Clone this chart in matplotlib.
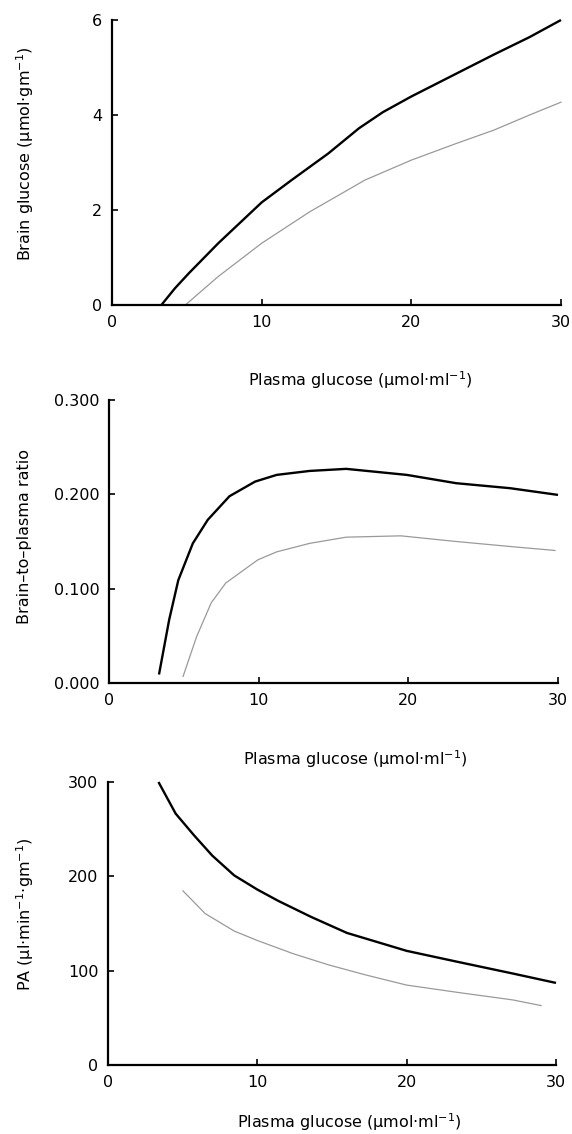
import matplotlib
matplotlib.use("Agg")
import matplotlib.pyplot as plt
import numpy as np

plt.rcParams['font.family'] = ['DejaVu Sans']
plt.rcParams['mathtext.fontset'] = 'dejavusans'

# Panel 1: brain glucose
p1_solid_x = [3.3, 4.2, 5.14, 7.1, 10.0, 12.0, 14.45, 16.5, 18.1, 20.0, 23.0, 25.5, 27.9, 30.0]
p1_solid_y = [0.0, 0.35, 0.67, 1.30, 2.16, 2.63, 3.19, 3.72, 4.06, 4.39, 4.87, 5.27, 5.64, 6.0]
p1_gray_x = [4.9, 7.1, 10.0, 13.2, 16.9, 20.0, 23.0, 25.5, 27.9, 30.0]
p1_gray_y = [0.0, 0.60, 1.30, 1.96, 2.63, 3.05, 3.40, 3.68, 4.0, 4.27]

# Panel 2: brain-to-plasma ratio
p2_solid_x = [3.34, 4.02, 4.63, 5.6, 6.6, 8.05, 9.76, 11.2, 13.4, 15.85, 19.9, 23.2, 26.8, 30.0]
p2_solid_y = [0.009, 0.067, 0.109, 0.148, 0.173, 0.198, 0.2135, 0.2206, 0.2248, 0.227, 0.2206, 0.2118, 0.2065, 0.1994]
p2_gray_x = [4.95, 5.85, 6.83, 7.8, 9.95, 11.2, 13.4, 15.85, 19.5, 23.2, 26.8, 29.8]
p2_gray_y = [0.007, 0.049, 0.085, 0.106, 0.1306, 0.139, 0.148, 0.1546, 0.156, 0.150, 0.1447, 0.1405]

# Panel 3: PA
p3_solid_x = [3.38, 4.53, 5.76, 6.98, 8.45, 10.0, 11.4, 13.6, 16.0, 20.0, 23.4, 27.1, 30.0]
p3_solid_y = [300, 266.5, 243.5, 222, 201, 186, 174, 157, 140, 121, 109.4, 97, 87]
p3_gray_x = [5.02, 6.5, 8.45, 10.0, 12.4, 14.8, 17.3, 20.0, 23.4, 27.1, 29.0]
p3_gray_y = [184.6, 160.6, 142, 132, 118, 106, 95.3, 84.7, 77, 69, 63]

x_ticks = [0, 10, 20, 30]
p1_yticks = [0, 2, 4, 6]
p2_yticks = [0.0, 0.1, 0.2, 0.3]
p3_yticks = [0, 100, 200, 300]

xlabel = 'Plasma glucose (μmol·ml$^{-1}$)'
ylabels = ['Brain glucose (μmol·gm$^{-1}$)', 'Brain–to–plasma ratio', 'PA (μl·min$^{-1}$·gm$^{-1}$)']

W, H = 572, 1134
fig = plt.figure(figsize=(W / 100, H / 100), dpi=100)

# axes boxes in pixels: left, right, top, bottom
boxes = [(112, 561, 20, 305), (109, 558, 400, 683), (108, 556, 782, 1065)]
xlabel_pos = [(360, 380), (355, 759), (349, 1122)]
ylabel_pos = [(25, 154), (25, 537), (25, 914)]

data = [
    (p1_solid_x, p1_solid_y, p1_gray_x, p1_gray_y, p1_yticks, (0, 6), lambda v: f"{v:g}"),
    (p2_solid_x, p2_solid_y, p2_gray_x, p2_gray_y, p2_yticks, (0, 0.3), lambda v: f"{v:.3f}"),
    (p3_solid_x, p3_solid_y, p3_gray_x, p3_gray_y, p3_yticks, (0, 300), lambda v: f"{v:g}"),
]

for i, (box, d) in enumerate(zip(boxes, data)):
    l, r, t, b = box
    ax = fig.add_axes([l / W, 1 - b / H, (r - l) / W, (b - t) / H])
    sx, sy, gx, gy, yt, ylim, fmt = d
    ax.plot(sx, sy, color='black', lw=1.7, solid_capstyle='butt', clip_on=False)
    ax.plot(gx, gy, color='#9a9a9a', lw=0.9, clip_on=False)
    ax.set_xlim(0, 30)
    ax.set_ylim(*ylim)
    ax.set_xticks(x_ticks)
    ax.set_xticklabels([str(v) for v in x_ticks])
    ax.set_yticks(yt)
    ax.set_yticklabels([fmt(v) for v in yt])
    for s in ['top', 'right']:
        ax.spines[s].set_visible(False)
    for s in ['left', 'bottom']:
        ax.spines[s].set_linewidth(1.6)
    ax.tick_params(direction='in', length=4, width=1.2, labelsize=11.5, pad=7)
    fig.text(xlabel_pos[i][0] / W, 1 - xlabel_pos[i][1] / H, xlabel, ha='center', va='center', fontsize=11.5)
    fig.text(ylabel_pos[i][0] / W, 1 - ylabel_pos[i][1] / H, ylabels[i], ha='center', va='center',
             rotation=90, fontsize=11.5)

fig.savefig('out.png', dpi=100)
